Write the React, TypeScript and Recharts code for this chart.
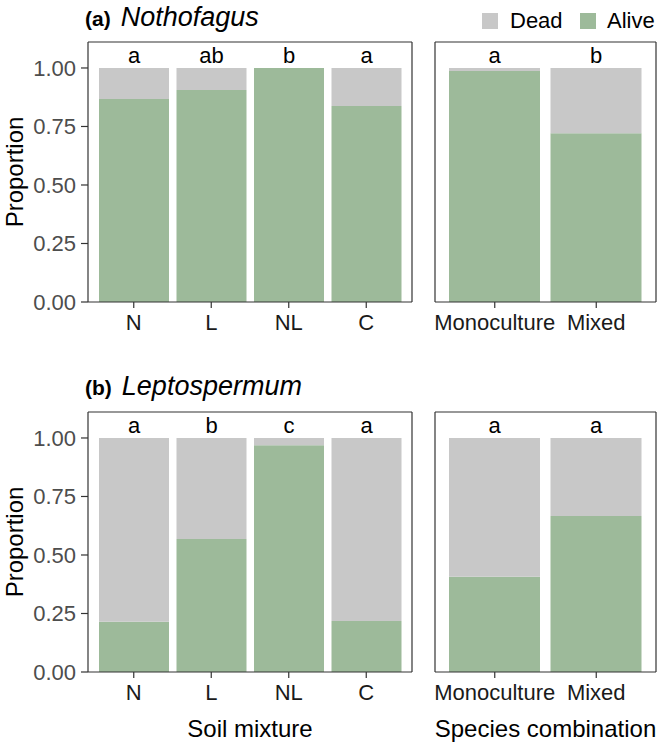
import { BarChart, Bar, XAxis, YAxis, LabelList } from 'recharts';

// soil mixture panels
const soilCats = ['N', 'L', 'NL', 'C'];
const nothoSoilAlive = [0.867, 0.906, 1.0, 0.838];
const nothoSoilLetters = ['a', 'ab', 'b', 'a'];
const leptoSoilAlive = [0.215, 0.568, 0.969, 0.218];
const leptoSoilLetters = ['a', 'b', 'c', 'a'];

// species combination panels
const comboCats = ['Monoculture', 'Mixed'];
const nothoComboAlive = [0.987, 0.721];
const nothoComboLetters = ['a', 'b'];
const leptoComboAlive = [0.407, 0.667];
const leptoComboLetters = ['a', 'a'];

const yTicks = [0, 0.25, 0.5, 0.75, 1];
const YMAX = 1.111;

const FONT = '"Liberation Sans", Arial, Helvetica, sans-serif';
const ALIVE = '#9dba9a';
const DEAD = '#c8c8c8';
const INK = '#333333';

type Row = { cat: string; alive: number; dead: number; sig: string };

const build = (cats: string[], alive: number[], letters: string[]): Row[] =>
  cats.map((c, i) => ({
    cat: c,
    alive: alive[i],
    dead: Math.round((1 - alive[i]) * 1000) / 1000,
    sig: letters[i],
  }));

// letter above the full stack; works even when the dead segment is 0
const sigLabel = (data: Row[]) => (props: any) => {
  const { x, y, width, height, index } = props;
  const d = data[index];
  if (!d) return null;
  const bottom = Number(y) + Number(height);
  const perUnit = Number(height) / d.alive;
  const stackTop = bottom - perUnit * (d.alive + d.dead);
  return (
    <text
      x={Number(x) + Number(width) / 2}
      y={stackTop - 5}
      textAnchor="middle"
      fill="#000"
      fontSize={22}
      fontFamily={FONT}
    >
      {d.sig}
    </text>
  );
};

interface PanelProps {
  data: Row[];
  left: number;
  top: number;
  width: number;
  height: number;
  marginLeft: number;
  showY: boolean;
  xTitle?: string;
  xHeight: number;
  pad: number;
  barSize: number;
}

function Panel({ data, left, top, width, height, marginLeft, showY, xTitle, xHeight, pad, barSize }: PanelProps) {
  const border = { stroke: INK, strokeWidth: 1.2 };
  return (
    <div style={{ position: 'absolute', left, top }}>
      <BarChart
        width={width}
        height={height}
        data={data}
        margin={{ top: 41, right: 7, left: marginLeft, bottom: 0 }}
        style={{ fontFamily: FONT }}
      >
        <XAxis
          dataKey="cat"
          height={xHeight}
          padding={{ left: pad, right: pad }}
          axisLine={border}
          tickLine={{ stroke: INK, strokeWidth: 1.2 }}
          tickSize={6}
          tickMargin={6}
          tick={{ fill: '#1a1a1a', fontSize: 22, fontFamily: FONT }}
          interval={0}
          label={
            xTitle
              ? { value: xTitle, position: 'insideBottom', offset: 8, fill: '#000', fontSize: 24, fontFamily: FONT }
              : undefined
          }
        />
        {/* top edge of the panel border */}
        <XAxis
          xAxisId="top"
          orientation="top"
          dataKey="cat"
          height={1}
          tick={false}
          tickLine={false}
          axisLine={border}
        />
        <YAxis
          type="number"
          domain={[0, YMAX]}
          ticks={yTicks}
          width={showY ? 88 : 1}
          axisLine={border}
          tickLine={showY ? { stroke: INK, strokeWidth: 1.2 } : false}
          tick={showY ? { fill: '#4d4d4d', fontSize: 22, fontFamily: FONT } : false}
          tickSize={7}
          tickMargin={5}
          tickFormatter={(v: number) => v.toFixed(2)}
          label={
            showY
              ? {
                  value: 'Proportion',
                  angle: -90,
                  position: 'insideLeft',
                  offset: 14,
                  style: { textAnchor: 'middle', fill: '#000', fontSize: 24, fontFamily: FONT },
                }
              : undefined
          }
        />
        {/* right edge of the panel border */}
        <YAxis
          yAxisId="r"
          orientation="right"
          type="number"
          domain={[0, YMAX]}
          width={1}
          tick={false}
          tickLine={false}
          axisLine={border}
        />
        <Bar dataKey="alive" stackId="s" fill={ALIVE} barSize={barSize} isAnimationActive={false}>
          <LabelList dataKey="sig" content={sigLabel(data)} />
        </Bar>
        <Bar dataKey="dead" stackId="s" fill={DEAD} barSize={barSize} isAnimationActive={false} />
      </BarChart>
    </div>
  );
}

function Title({ tag, name, top }: { tag: string; name: string; top: number }) {
  return (
    <div style={{ position: 'absolute', left: 85, top, fontFamily: FONT, color: '#000', whiteSpace: 'nowrap', lineHeight: '30px' }}>
      <span style={{ fontWeight: 'bold', fontSize: 21 }}>{tag}</span>
      <span style={{ fontStyle: 'italic', fontSize: 27, marginLeft: 10 }}>{name}</span>
    </div>
  );
}

export default function App() {
  return (
    <div style={{ position: 'absolute', left: 0, top: 0, width: 664, height: 745, background: '#fff', overflow: 'hidden' }}>
      <Title tag="(a)" name="Nothofagus" top={2} />
      <Title tag="(b)" name="Leptospermum" top={371} />

      {/* legend */}
      <div style={{ position: 'absolute', left: 482, top: 13, width: 16, height: 16, background: DEAD }} />
      <div style={{ position: 'absolute', left: 510, top: 8, fontFamily: FONT, fontSize: 22, lineHeight: '26px' }}>Dead</div>
      <div style={{ position: 'absolute', left: 580, top: 13, width: 16, height: 16, background: ALIVE }} />
      <div style={{ position: 'absolute', left: 607, top: 8, fontFamily: FONT, fontSize: 22, lineHeight: '26px' }}>Alive</div>

      <Panel
        data={build(soilCats, nothoSoilAlive, nothoSoilLetters)}
        left={0}
        top={0}
        width={420}
        height={345}
        marginLeft={0}
        showY
        xHeight={43}
        pad={7}
        barSize={70}
      />
      <Panel
        data={build(comboCats, nothoComboAlive, nothoComboLetters)}
        left={420}
        top={0}
        width={244}
        height={345}
        marginLeft={14}
        showY={false}
        xHeight={43}
        pad={9}
        barSize={91}
      />
      <Panel
        data={build(soilCats, leptoSoilAlive, leptoSoilLetters)}
        left={0}
        top={370}
        width={420}
        height={375}
        marginLeft={0}
        showY
        xTitle="Soil mixture"
        xHeight={73}
        pad={7}
        barSize={70}
      />
      <Panel
        data={build(comboCats, leptoComboAlive, leptoComboLetters)}
        left={420}
        top={370}
        width={244}
        height={375}
        marginLeft={14}
        showY={false}
        xTitle="Species combination"
        xHeight={73}
        pad={9}
        barSize={91}
      />
    </div>
  );
}
